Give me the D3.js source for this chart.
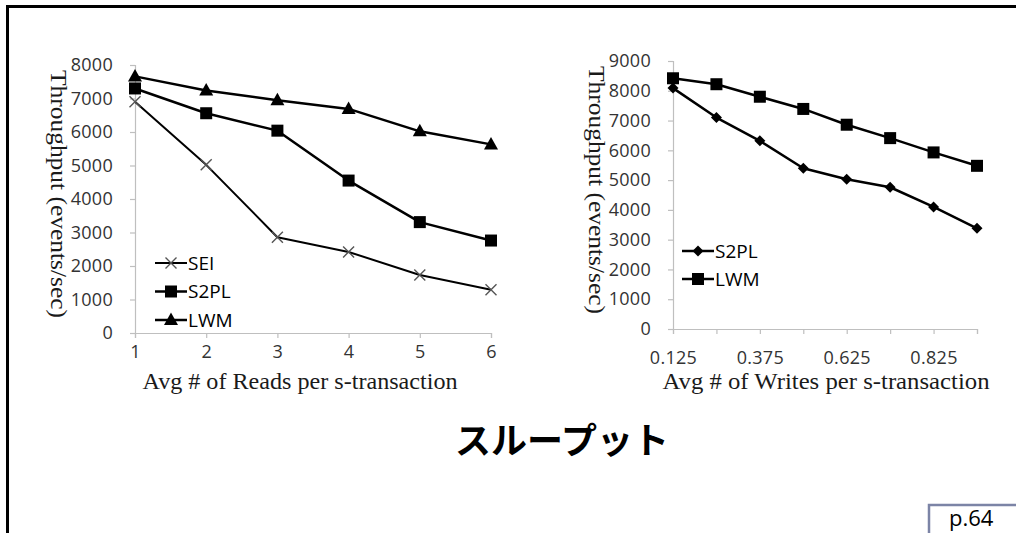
<!DOCTYPE html>
<html><head><meta charset="utf-8">
<script src="https://cdn.jsdelivr.net/npm/d3@7"></script>
<style>
html,body{margin:0;padding:0;background:#fff;overflow:hidden;}
svg{display:block;}
</style></head>
<body>
<svg id="chart" width="1016" height="533"></svg>
<script>
// ---- data ----
const readsCategories = ["1","2","3","4","5","6"];
const seiReads  = [6900, 5020, 2860, 2420, 1730, 1290];
const s2plReads = [7300, 6560, 6040, 4550, 3310, 2760];
const lwmReads  = [7660, 7240, 6950, 6690, 6020, 5630];
const readsYTicks = [0,1000,2000,3000,4000,5000,6000,7000,8000];

const writesCategories = ["0.125","0.25","0.375","0.5","0.625","0.725","0.825","0.925"];
const writesShownLabels = ["0.125","0.375","0.625","0.825"];
const s2plWrites = [8090, 7100, 6320, 5400, 5030, 4760, 4100, 3380];
const lwmWrites  = [8420, 8220, 7800, 7390, 6860, 6410, 5930, 5480];
const writesYTicks = [0,1000,2000,3000,4000,5000,6000,7000,8000,9000];

const titleText = "スループット";
const pageLabel = "p.64";

// ---- drawing ----
const svg = d3.select("#chart");
const axisGrey = "#bfbfbf";
const tickTextColor = "#333";
const sansFont = "'Open Sans','Noto Sans',sans-serif";
const serifFont = "'Liberation Serif','DejaVu Serif',serif";

// slide frame
svg.append("rect").attr("x",7.5).attr("y",6.5).attr("width",1040).attr("height",560)
  .attr("fill","none").attr("stroke","#000").attr("stroke-width",3);

function marker(g, type, x, y) {
  if (type === "x") {
    const s = 5.5;
    g.append("path").attr("d",`M${x-s},${y-s}L${x+s},${y+s}M${x-s},${y+s}L${x+s},${y-s}`)
      .attr("stroke","#555").attr("stroke-width",1.4).attr("fill","none");
  } else if (type === "square") {
    g.append("rect").attr("x",x-6).attr("y",y-6).attr("width",12).attr("height",12).attr("fill","#000");
  } else if (type === "triangle") {
    g.append("path").attr("d",`M${x},${y-7.5}L${x+7},${y+5}L${x-7},${y+5}Z`).attr("fill","#000");
  } else if (type === "diamond") {
    g.append("path").attr("d",`M${x},${y-5.5}L${x+5.5},${y}L${x},${y+5.5}L${x-5.5},${y}Z`).attr("fill","#000");
  }
}

function drawChart(cfg) {
  const g = svg.append("g");
  const x = d3.scalePoint().domain(cfg.categories).range(cfg.xRange).padding(0);
  const y = d3.scaleLinear().domain([0, cfg.yMax]).range(cfg.yRange);

  const yAxis = d3.axisLeft(y).tickValues(cfg.yTicks).tickSize(5).tickPadding(17).tickFormat(d3.format("d"));
  const ya = g.append("g").attr("transform",`translate(${cfg.xRange[0]},0)`).call(yAxis);
  ya.select(".domain").attr("stroke",axisGrey).attr("stroke-width",1.2);
  ya.selectAll(".tick line").attr("stroke",axisGrey).attr("stroke-width",1.2);
  ya.selectAll(".tick text").attr("fill",tickTextColor).attr("font-family",sansFont)
    .attr("font-size",18).attr("letter-spacing","0.3px");

  const xAxis = d3.axisBottom(x).tickSize(5).tickPadding(cfg.xTickPad)
    .tickFormat(d => cfg.shown.includes(d) ? d : "");
  const xa = g.append("g").attr("transform",`translate(0,${cfg.yRange[0]})`).call(xAxis);
  xa.select(".domain").attr("stroke",axisGrey).attr("stroke-width",1.2);
  xa.selectAll(".tick line").attr("stroke",axisGrey).attr("stroke-width",1.2);
  xa.selectAll(".tick text").attr("fill",tickTextColor).attr("font-family",sansFont)
    .attr("font-size",18).attr("letter-spacing","0.3px");

  // axis titles
  g.append("text").attr("x",cfg.xTitle[0]).attr("y",cfg.xTitle[1]).attr("text-anchor","middle")
    .attr("font-family",serifFont).attr("font-size",23).attr("fill","#1a1a1a")
    .attr("textLength",cfg.xTitleLen).attr("lengthAdjust","spacingAndGlyphs")
    .text(cfg.xLabel);
  g.append("text").attr("transform",`translate(${cfg.yTitle[0]},${cfg.yTitle[1]}) rotate(90)`)
    .attr("text-anchor","middle").attr("font-family",serifFont).attr("font-size",24).attr("fill","#1a1a1a")
    .attr("textLength",248).attr("lengthAdjust","spacingAndGlyphs")
    .text("Throughput (events/sec)");

  const line = d3.line().x((d,i) => x(cfg.categories[i])).y(d => y(d));
  cfg.series.forEach(s => {
    g.append("path").datum(s.values).attr("d",line).attr("fill","none")
      .attr("stroke","#000").attr("stroke-width",s.width).attr("stroke-linejoin","round");
    s.values.forEach((v,i) => marker(g, s.marker, x(cfg.categories[i]), y(v)));
  });

  // legend
  cfg.series.forEach((s,i) => {
    const ly = cfg.legend[1] + i*cfg.legendStep;
    g.append("line").attr("x1",cfg.legend[0]).attr("x2",cfg.legend[0]+32).attr("y1",ly).attr("y2",ly)
      .attr("stroke","#000").attr("stroke-width",s.width);
    marker(g, s.marker, cfg.legend[0]+16, ly);
    g.append("text").attr("x",cfg.legend[0]+33).attr("y",ly).attr("dy","0.36em")
      .attr("font-family",sansFont).attr("font-size",19).attr("fill","#000").text(s.name);
  });
}

drawChart({
  categories: readsCategories, shown: readsCategories, yMax: 8000, yTicks: readsYTicks,
  xRange: [135, 491], yRange: [333, 65], xTickPad: 7,
  xLabel: "Avg # of Reads per s-transaction", xTitle: [300, 389], xTitleLen: 315,
  yTitle: [51, 194],
  legend: [155, 263], legendStep: 28.5,
  series: [
    {name:"SEI", values: seiReads, marker:"x", width:2},
    {name:"S2PL", values: s2plReads, marker:"square", width:2.5},
    {name:"LWM", values: lwmReads, marker:"triangle", width:2.5}
  ]
});

drawChart({
  categories: writesCategories, shown: writesShownLabels, yMax: 9000, yTicks: writesYTicks,
  xRange: [673, 977], yRange: [329, 61], xTickPad: 17,
  xLabel: "Avg # of Writes per s-transaction", xTitle: [826, 389], xTitleLen: 327,
  yTitle: [589, 190],
  legend: [682, 251], legendStep: 28,
  series: [
    {name:"S2PL", values: s2plWrites, marker:"diamond", width:2.5},
    {name:"LWM", values: lwmWrites, marker:"square", width:2.5}
  ]
});

// title
svg.append("text").attr("x",562).attr("y",441).attr("dy","0.35em").attr("text-anchor","middle")
  .attr("font-family","'Noto Sans CJK JP',sans-serif").attr("font-weight","bold")
  .attr("font-size",36).attr("fill","#000").text(titleText);

// page label box
svg.append("rect").attr("x",929).attr("y",505).attr("width",120).attr("height",60)
  .attr("fill","#fff").attr("stroke","#7c84a6").attr("stroke-width",2.5);
svg.append("text").attr("x",949).attr("y",526).attr("font-family",sansFont)
  .attr("font-size",22).attr("fill","#000").text(pageLabel);
</script>
</body></html>
